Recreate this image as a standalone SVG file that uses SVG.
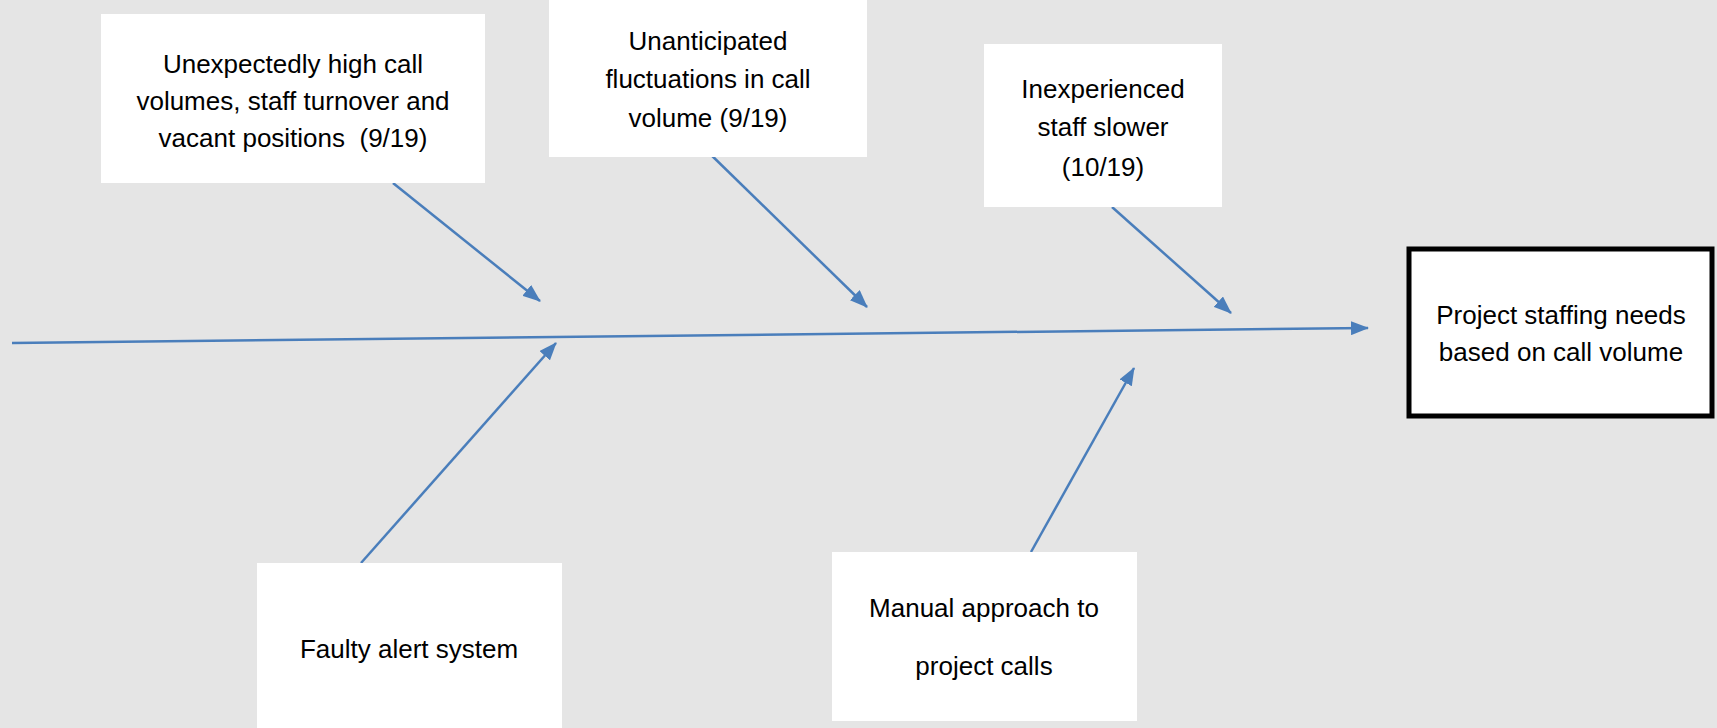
<svg xmlns="http://www.w3.org/2000/svg" width="1717" height="728" viewBox="0 0 1717 728">
<defs>
<style>
.box{fill:#ffffff;stroke:none}
.effect{fill:#ffffff;stroke:#000000;stroke-width:5}
.t{font-family:"Liberation Sans",Arial,sans-serif;font-size:26px;fill:#000000;text-anchor:middle;white-space:pre}
.c{stroke:#4a7ebb;stroke-width:2.5;fill:none;marker-end:url(#ah)}
</style>
<marker id="ah" markerUnits="userSpaceOnUse" markerWidth="18" markerHeight="14" refX="17" refY="7" orient="auto">
<path d="M0,0 L18,7 L0,14 Z" fill="#4a7ebb"/>
</marker>
</defs>
<rect width="1717" height="728" fill="#e5e5e5"/>
<g id="connectors">
<line class="c" x1="12" y1="343" x2="1368" y2="328"/>
<line class="c" x1="393" y1="183" x2="540" y2="301"/>
<line class="c" x1="704" y1="148" x2="867" y2="307"/>
<line class="c" x1="1112" y1="207" x2="1231" y2="313"/>
<line class="c" x1="361" y1="563" x2="556" y2="343"/>
<line class="c" x1="1031" y1="552" x2="1134" y2="368"/>
</g>
<g id="cause1">
<rect class="box" x="101" y="14" width="384" height="169"/>
<text class="t" x="293" y="73">Unexpectedly high call</text>
<text class="t" x="293" y="110">volumes, staff turnover and</text>
<text class="t" x="293" y="147" xml:space="preserve">vacant positions  (9/19)</text>
</g>
<g id="cause2">
<rect class="box" x="549" y="0" width="318" height="157"/>
<text class="t" x="708" y="50">Unanticipated</text>
<text class="t" x="708" y="88">fluctuations in call</text>
<text class="t" x="708" y="127">volume (9/19)</text>
</g>
<g id="cause3">
<rect class="box" x="984" y="44" width="238" height="163"/>
<text class="t" x="1103" y="98">Inexperienced</text>
<text class="t" x="1103" y="136">staff slower</text>
<text class="t" x="1103" y="176">(10/19)</text>
</g>
<g id="effect">
<rect class="effect" x="1409" y="249" width="303" height="167"/>
<text class="t" x="1561" y="324">Project staffing needs</text>
<text class="t" x="1561" y="361">based on call volume</text>
</g>
<g id="cause4">
<rect class="box" x="257" y="563" width="305" height="165"/>
<text class="t" x="409" y="658">Faulty alert system</text>
</g>
<g id="cause5">
<rect class="box" x="832" y="552" width="305" height="169"/>
<text class="t" x="984" y="617">Manual approach to</text>
<text class="t" x="984" y="675">project calls</text>
</g>
</svg>
